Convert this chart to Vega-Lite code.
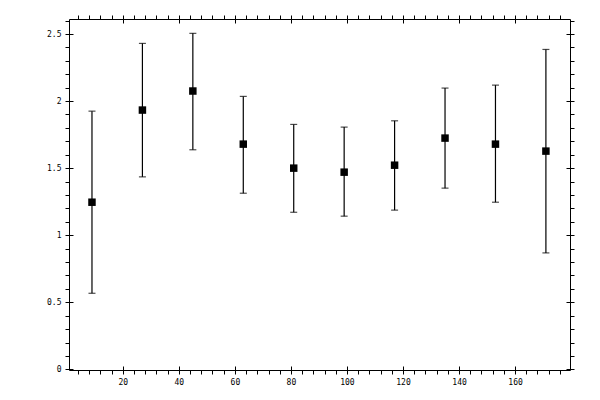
{
  "$schema": "https://vega.github.io/schema/vega-lite/v6.json",
  "autosize": "none",
  "padding": {"left": 69, "top": 19, "right": 30, "bottom": 30},
  "width": 501,
  "height": 351,
  "background": "white",
  "config": {
    "view": {"stroke": null},
    "axis": {
      "grid": false,
      "title": null,
      "domainColor": "black",
      "domainWidth": 1,
      "tickColor": "black",
      "tickWidth": 1,
      "labelColor": "black",
      "labelFont": "DejaVu Sans Mono",
      "labelFontSize": 8,
      "labelPadding": 4
    }
  },
  "data": {
    "values": [
      {"x": 9, "y": 1.246, "lo": 0.567, "hi": 1.925},
      {"x": 27, "y": 1.933, "lo": 1.435, "hi": 2.430},
      {"x": 45, "y": 2.075, "lo": 1.637, "hi": 2.505},
      {"x": 63, "y": 1.679, "lo": 1.313, "hi": 2.035},
      {"x": 81, "y": 1.500, "lo": 1.171, "hi": 1.826},
      {"x": 99, "y": 1.470, "lo": 1.142, "hi": 1.806},
      {"x": 117, "y": 1.522, "lo": 1.187, "hi": 1.853},
      {"x": 135, "y": 1.724, "lo": 1.351, "hi": 2.097},
      {"x": 153, "y": 1.679, "lo": 1.246, "hi": 2.119},
      {"x": 171, "y": 1.627, "lo": 0.868, "hi": 2.385}
    ]
  },
  "resolve": {"axis": {"x": "independent", "y": "independent"}},
  "layer": [
    {
      "mark": {"type": "rule", "color": "black", "strokeWidth": 1.2},
      "encoding": {
        "x": {
          "field": "x", "type": "quantitative",
          "scale": {"domain": [0.8, 179.6], "nice": false, "zero": false},
          "axis": {
            "orient": "bottom",
            "values": [4, 8, 12, 16, 20, 24, 28, 32, 36, 40, 44, 48, 52, 56, 60, 64, 68, 72, 76, 80, 84, 88, 92, 96, 100, 104, 108, 112, 116, 120, 124, 128, 132, 136, 140, 144, 148, 152, 156, 160, 164, 168, 172, 176],
            "tickSize": 4,
            "labelExpr": "datum.value % 20 === 0 ? datum.label : ''"
          }
        },
        "y": {
          "field": "lo", "type": "quantitative",
          "scale": {"domain": [-0.005, 2.612], "nice": false, "zero": false},
          "axis": {
            "orient": "left",
            "values": [0, 0.1, 0.2, 0.3, 0.4, 0.5, 0.6, 0.7, 0.8, 0.9, 1, 1.1, 1.2, 1.3, 1.4, 1.5, 1.6, 1.7, 1.8, 1.9, 2, 2.1, 2.2, 2.3, 2.4, 2.5, 2.6],
            "tickSize": 4,
            "format": "~g",
            "labelExpr": "indexof(['0', '0.5', '1', '1.5', '2', '2.5'], datum.label) >= 0 ? datum.label : ''"
          }
        },
        "y2": {"field": "hi"}
      }
    },
    {
      "mark": {"type": "tick", "orient": "horizontal", "color": "black", "size": 7, "thickness": 1.2},
      "encoding": {
        "x": {
          "field": "x", "type": "quantitative",
          "axis": {
            "orient": "top",
            "values": [4, 8, 12, 16, 20, 24, 28, 32, 36, 40, 44, 48, 52, 56, 60, 64, 68, 72, 76, 80, 84, 88, 92, 96, 100, 104, 108, 112, 116, 120, 124, 128, 132, 136, 140, 144, 148, 152, 156, 160, 164, 168, 172, 176],
            "tickSize": 4,
            "labels": false
          }
        },
        "y": {
          "field": "hi", "type": "quantitative",
          "axis": {
            "orient": "right",
            "values": [0, 0.1, 0.2, 0.3, 0.4, 0.5, 0.6, 0.7, 0.8, 0.9, 1, 1.1, 1.2, 1.3, 1.4, 1.5, 1.6, 1.7, 1.8, 1.9, 2, 2.1, 2.2, 2.3, 2.4, 2.5, 2.6],
            "tickSize": 4,
            "labels": false
          }
        }
      }
    },
    {
      "mark": {"type": "tick", "orient": "horizontal", "color": "black", "size": 7, "thickness": 1.2},
      "encoding": {
        "x": {
          "field": "x", "type": "quantitative",
          "axis": {
            "orient": "bottom",
            "values": [20, 40, 60, 80, 100, 120, 140, 160],
            "tickSize": -4,
            "labels": false,
            "domain": false
          }
        },
        "y": {
          "field": "lo", "type": "quantitative",
          "axis": {
            "orient": "left",
            "values": [0, 0.5, 1, 1.5, 2, 2.5],
            "tickSize": -4,
            "labels": false,
            "domain": false
          }
        }
      }
    },
    {
      "mark": {"type": "square", "color": "black", "filled": true, "opacity": 1, "size": 56},
      "encoding": {
        "x": {
          "field": "x", "type": "quantitative",
          "axis": {
            "orient": "top",
            "values": [20, 40, 60, 80, 100, 120, 140, 160],
            "tickSize": -4,
            "labels": false,
            "domain": false
          }
        },
        "y": {
          "field": "y", "type": "quantitative",
          "axis": {
            "orient": "right",
            "values": [0, 0.5, 1, 1.5, 2, 2.5],
            "tickSize": -4,
            "labels": false,
            "domain": false
          }
        }
      }
    }
  ]
}
